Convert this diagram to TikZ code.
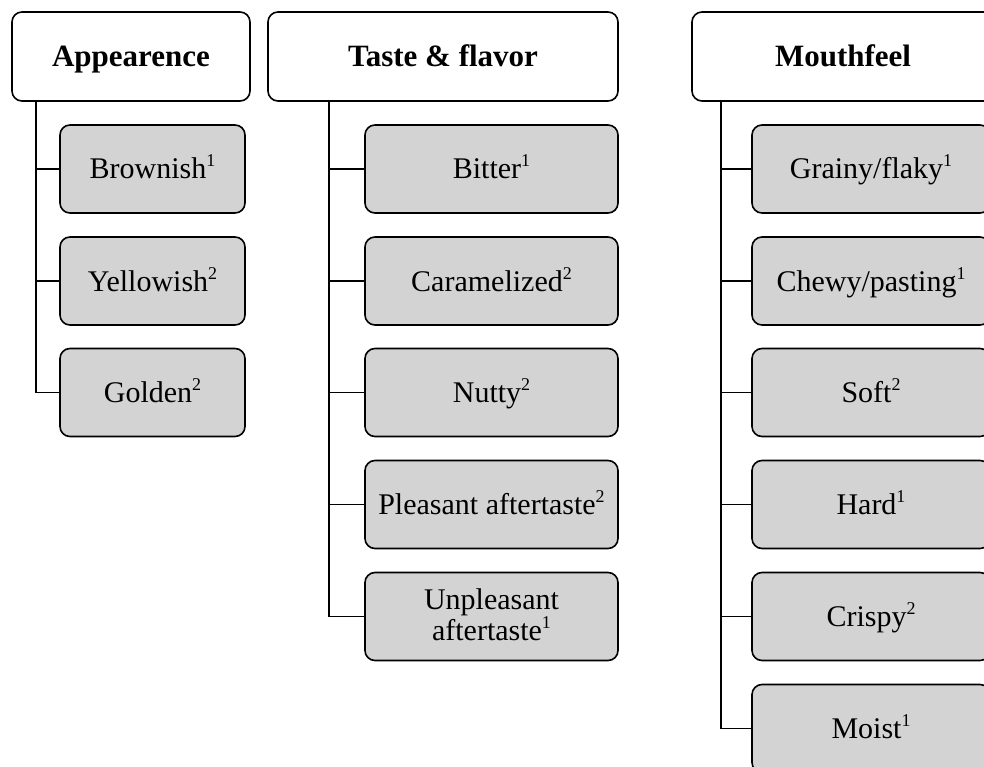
\documentclass[tikz,border=0pt]{standalone}
\usepackage{fontspec}
\setmainfont{Liberation Serif}
\usetikzlibrary{calc}
\definecolor{boxgray}{RGB}{211,211,211}
\newcommand\spn[1]{\raisebox{0.4em}{\fontsize{18}{18}\selectfont #1}}
\tikzset{
  hdr/.style={draw=black, line width=1.6pt, rounded corners=10pt, fill=white,
    font=\fontsize{31}{30}\selectfont\bfseries, align=center, inner sep=0pt,
    text height=21pt, text depth=0pt},
  item/.style={draw=black, line width=1.6pt, rounded corners=10pt, fill=boxgray,
    font=\fontsize{30}{30}\selectfont, align=center, inner sep=0pt,
    minimum height=88pt, text height=20pt, text depth=0pt},
  conn/.style={line width=1.6pt, black}
}
\begin{document}
\begin{tikzpicture}[x=1pt,y=1pt]
\useasboundingbox (0,0) rectangle (984,-767);
\clip (0,0) rectangle (984,-767);
% Appearence
\node[hdr, minimum width=238pt, minimum height=89pt] (h1) at (131,-56.5) {Appearence};
\node[item, minimum width=185pt] (a1) at (152.5,-169) {Brownish\spn{1}};
\node[item, minimum width=185pt] (a2) at (152.5,-281) {Yellowish\spn{2}};
\node[item, minimum width=185pt] (a3) at (152.5,-392.5) {Golden\spn{2}};
% Taste & flavor
\node[hdr, minimum width=350pt, minimum height=89pt] (h2) at (443,-56.5) {Taste \& flavor};
\node[item, minimum width=253pt] (b1) at (491.5,-169) {Bitter\spn{1}};
\node[item, minimum width=253pt] (b2) at (491.5,-281) {Caramelized\spn{2}};
\node[item, minimum width=253pt] (b3) at (491.5,-392.5) {Nutty\spn{2}};
\node[item, minimum width=253pt] (b4) at (491.5,-504.5) {Pleasant aftertaste\spn{2}};
\node[item, minimum width=253pt, text height=48pt] (b5) at (491.5,-616.5) {Unpleasant\\aftertaste\spn{1}};
% Mouthfeel
\node[hdr, minimum width=302pt, minimum height=89pt] (h3) at (843,-56.5) {Mouthfeel};
\node[item, minimum width=238pt] (c1) at (871,-169) {Grainy/flaky\spn{1}};
\node[item, minimum width=238pt] (c2) at (871,-281) {Chewy/pasting\spn{1}};
\node[item, minimum width=238pt] (c3) at (871,-392.5) {Soft\spn{2}};
\node[item, minimum width=238pt] (c4) at (871,-504.5) {Hard\spn{1}};
\node[item, minimum width=238pt] (c5) at (871,-616.5) {Crispy\spn{2}};
\node[item, minimum width=238pt] (c6) at (871,-728.5) {Moist\spn{1}};
% trunk coordinates
\coordinate (ta) at ($(h1.south west)+(25,0)$);
\coordinate (tb) at ($(h2.south west)+(62,0)$);
\coordinate (tc) at ($(h3.south west)+(30,0)$);
% connectors
\draw[conn] (ta) |- (a3.west);
\foreach \n in {a1,a2} \draw[conn] (ta |- \n.west) -- (\n.west);
\draw[conn] (tb) |- (b5.west);
\foreach \n in {b1,b2,b3,b4} \draw[conn] (tb |- \n.west) -- (\n.west);
\draw[conn] (tc) |- (c6.west);
\foreach \n in {c1,c2,c3,c4,c5} \draw[conn] (tc |- \n.west) -- (\n.west);
\end{tikzpicture}
\end{document}
